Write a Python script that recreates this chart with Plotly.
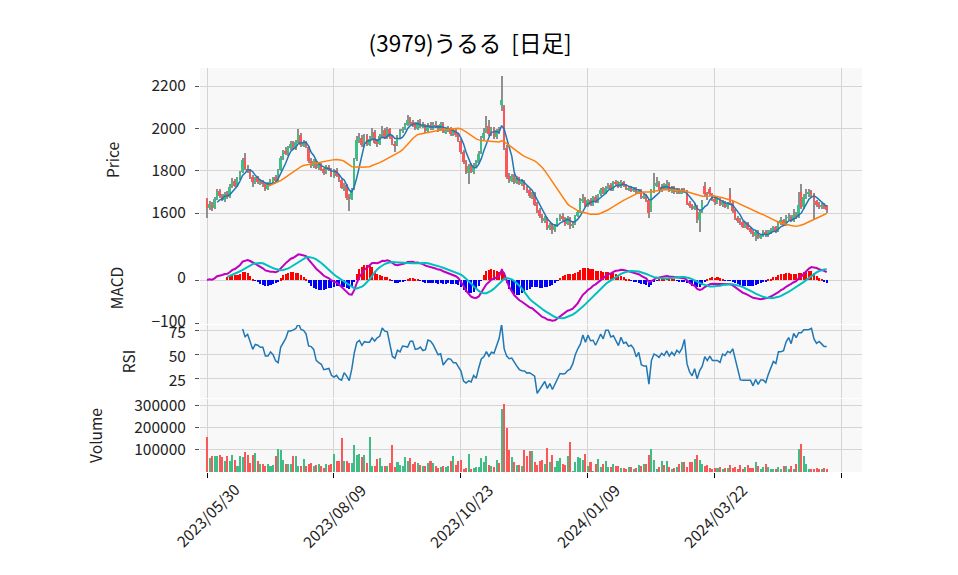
import pandas as pd
import plotly.graph_objects as go
from plotly.subplots import make_subplots

TITLE = "(3979)うるる \u00a0[日足]"
tick_pos = [0, 50, 100, 150, 200, 250]
tick_text = ["2023/05/30", "2023/08/09", "2023/10/23", "2024/01/09", "2024/03/22", ""]

opens = [
    1665, 1622, 1648, 1625, 1668, 1705, 1682, 1660, 1695, 1678,
    1728, 1752, 1728, 1768, 1795, 1862, 1808, 1798, 1772, 1740,
    1768, 1742, 1752, 1738, 1712, 1742, 1748, 1770, 1752, 1805,
    1862, 1895, 1878, 1908, 1930, 1905, 1935, 1968, 1918, 1935,
    1910, 1848, 1822, 1848, 1812, 1832, 1808, 1788, 1818, 1808,
    1772, 1805, 1778, 1758, 1715, 1732, 1675, 1668, 1715, 1855,
    1948, 1955, 1918, 1962, 1922, 1952, 1982, 1935, 1928, 1968,
    1992, 1958, 1995, 1962, 1928, 1922, 1962, 1988, 1998, 2018,
    2042, 2028, 2022, 1998, 2032, 2008, 2018, 1988, 2018, 1998,
    2018, 2012, 1992, 2022, 1982, 1992, 2002, 1972, 1992, 1972,
    1940, 1888, 1842, 1790, 1825, 1792, 1828, 1838, 1885, 1955,
    1985, 2010, 1972, 1998, 1958, 1992, 2110, 2100, 1905, 1775,
    1752, 1778, 1742, 1768, 1738, 1752, 1718, 1708, 1678, 1692,
    1642, 1612, 1588, 1562, 1578, 1528, 1548, 1518, 1542, 1572,
    1588, 1572, 1548, 1578, 1538, 1552, 1588, 1602, 1658, 1668,
    1632, 1662, 1638, 1678, 1652, 1688, 1712, 1692, 1722, 1732,
    1708, 1748, 1742, 1722, 1748, 1732, 1712, 1722, 1702, 1718,
    1698, 1708, 1672, 1682, 1662, 1610, 1702, 1732, 1742, 1708,
    1728, 1712, 1738, 1702, 1722, 1698, 1712, 1692, 1712, 1702,
    1648, 1638, 1618, 1632, 1568, 1608, 1730, 1688, 1715, 1688,
    1668, 1648, 1668, 1638, 1652, 1628, 1690, 1648, 1612, 1578,
    1562, 1558, 1532, 1552, 1528, 1512, 1492, 1512, 1482, 1492,
    1512, 1492, 1508, 1518, 1532, 1515, 1552, 1568, 1542, 1578,
    1582, 1562, 1592, 1582, 1700, 1628, 1672, 1688, 1702, 1688,
    1658, 1642, 1628, 1642, 1632,
]
highs = [
    1672, 1655, 1652, 1675, 1712, 1715, 1692, 1698, 1705, 1738,
    1765, 1760, 1772, 1800, 1858, 1885, 1825, 1808, 1780, 1772,
    1775, 1760, 1758, 1742, 1748, 1760, 1772, 1778, 1808, 1870,
    1898, 1910, 1915, 1938, 1942, 1945, 1995, 1978, 1945, 1942,
    1915, 1858, 1855, 1852, 1840, 1838, 1815, 1825, 1828, 1812,
    1810, 1812, 1785, 1765, 1742, 1738, 1688, 1718, 1860, 1962,
    1978, 1968, 1975, 1972, 1962, 2000, 1990, 1948, 1975, 2010,
    2000, 2005, 2000, 1970, 1940, 1968, 1995, 2005, 2025, 2062,
    2055, 2040, 2030, 2040, 2042, 2030, 2022, 2025, 2028, 2030,
    2035, 2018, 2028, 2030, 2002, 2010, 2008, 1998, 1998, 1980,
    1948, 1898, 1850, 1830, 1835, 1838, 1852, 1895, 1965, 2000,
    2060, 2040, 2005, 2005, 1998, 2005, 2245, 2110, 1920, 1790,
    1785, 1785, 1775, 1772, 1762, 1758, 1728, 1715, 1700, 1698,
    1650, 1622, 1595, 1585, 1582, 1555, 1552, 1548, 1578, 1595,
    1598, 1580, 1585, 1582, 1560, 1592, 1615, 1670, 1690, 1675,
    1668, 1670, 1682, 1685, 1692, 1718, 1722, 1728, 1742, 1740,
    1752, 1758, 1750, 1755, 1752, 1738, 1728, 1728, 1722, 1722,
    1712, 1712, 1690, 1688, 1668, 1712, 1790, 1770, 1750, 1738,
    1740, 1758, 1745, 1730, 1728, 1720, 1718, 1718, 1720, 1708,
    1655, 1645, 1648, 1640, 1612, 1660, 1745, 1700, 1725, 1695,
    1672, 1675, 1672, 1660, 1658, 1652, 1720, 1655, 1618, 1588,
    1575, 1562, 1558, 1558, 1535, 1518, 1518, 1518, 1502, 1518,
    1520, 1518, 1530, 1540, 1540, 1560, 1580, 1572, 1590, 1600,
    1592, 1620, 1605, 1700, 1735, 1690, 1712, 1712, 1708, 1695,
    1662, 1650, 1648, 1648, 1640,
]
lows = [
    1578, 1612, 1610, 1618, 1660, 1672, 1655, 1652, 1665, 1670,
    1720, 1722, 1722, 1758, 1788, 1805, 1790, 1762, 1722, 1735,
    1738, 1732, 1725, 1705, 1708, 1732, 1740, 1742, 1748, 1798,
    1852, 1872, 1870, 1900, 1902, 1898, 1930, 1912, 1910, 1905,
    1838, 1815, 1815, 1808, 1805, 1798, 1780, 1782, 1798, 1768,
    1765, 1768, 1745, 1712, 1705, 1660, 1608, 1660, 1710, 1848,
    1930, 1912, 1912, 1918, 1915, 1945, 1925, 1912, 1920, 1960,
    1952, 1950, 1952, 1922, 1888, 1915, 1955, 1978, 1990, 2010,
    2018, 2005, 1990, 1992, 2002, 2000, 1980, 1982, 1992, 1990,
    2000, 1985, 1988, 1978, 1972, 1985, 1965, 1965, 1960, 1935,
    1880, 1830, 1785, 1735, 1788, 1785, 1815, 1830, 1878, 1945,
    1978, 1965, 1965, 1952, 1950, 1975, 2080, 1900, 1760, 1740,
    1745, 1738, 1735, 1732, 1728, 1708, 1695, 1672, 1665, 1632,
    1602, 1578, 1555, 1555, 1522, 1518, 1500, 1510, 1535, 1562,
    1560, 1540, 1542, 1525, 1530, 1545, 1580, 1598, 1648, 1628,
    1628, 1635, 1632, 1648, 1648, 1680, 1688, 1688, 1715, 1702,
    1702, 1732, 1718, 1718, 1722, 1708, 1705, 1698, 1698, 1692,
    1692, 1668, 1665, 1652, 1575, 1605, 1695, 1725, 1702, 1700,
    1708, 1708, 1698, 1695, 1692, 1692, 1688, 1688, 1695, 1638,
    1625, 1612, 1612, 1555, 1510, 1600, 1680, 1662, 1680, 1655,
    1640, 1642, 1632, 1630, 1622, 1620, 1640, 1602, 1568, 1552,
    1545, 1528, 1528, 1518, 1502, 1485, 1467, 1478, 1475, 1488,
    1488, 1488, 1502, 1512, 1508, 1510, 1545, 1538, 1538, 1568,
    1558, 1558, 1572, 1578, 1618, 1620, 1665, 1678, 1672, 1565,
    1628, 1620, 1620, 1618, 1600,
]
closes = [
    1625, 1645, 1620, 1665, 1700, 1680, 1665, 1690, 1675, 1725,
    1750, 1730, 1765, 1790, 1850, 1810, 1800, 1770, 1745, 1765,
    1745, 1750, 1735, 1715, 1740, 1750, 1765, 1750, 1800, 1860,
    1890, 1880, 1905, 1925, 1910, 1935, 1970, 1920, 1930, 1915,
    1845, 1825, 1845, 1815, 1830, 1805, 1790, 1815, 1805, 1775,
    1800, 1775, 1755, 1720, 1730, 1670, 1665, 1710, 1850, 1945,
    1950, 1920, 1960, 1925, 1950, 1980, 1930, 1925, 1965, 1990,
    1960, 1990, 1960, 1930, 1920, 1960, 1985, 1995, 2015, 2040,
    2025, 2020, 2000, 2030, 2010, 2015, 1990, 2015, 2000, 2015,
    2010, 1995, 2020, 1985, 1990, 2000, 1975, 1990, 1970, 1945,
    1890, 1840, 1795, 1820, 1795, 1825, 1835, 1880, 1950, 1980,
    2005, 1975, 1995, 1960, 1990, 1985, 2135, 1910, 1770, 1755,
    1775, 1745, 1765, 1740, 1750, 1715, 1705, 1680, 1690, 1640,
    1610, 1585, 1565, 1575, 1530, 1545, 1520, 1540, 1570, 1585,
    1570, 1550, 1575, 1540, 1550, 1585, 1605, 1655, 1665, 1635,
    1660, 1640, 1675, 1655, 1685, 1710, 1695, 1720, 1730, 1710,
    1745, 1740, 1725, 1745, 1730, 1715, 1720, 1705, 1715, 1700,
    1705, 1675, 1680, 1660, 1600, 1700, 1730, 1740, 1710, 1725,
    1715, 1735, 1705, 1720, 1700, 1710, 1695, 1710, 1705, 1645,
    1635, 1620, 1635, 1570, 1605, 1650, 1690, 1675, 1690, 1665,
    1650, 1665, 1640, 1650, 1630, 1645, 1650, 1610, 1575, 1560,
    1555, 1535, 1550, 1525, 1510, 1495, 1510, 1485, 1495, 1510,
    1495, 1510, 1520, 1530, 1515, 1550, 1565, 1545, 1575, 1580,
    1565, 1590, 1580, 1640, 1625, 1675, 1685, 1700, 1690, 1655,
    1640, 1630, 1640, 1630, 1615,
]
volumes = [
    160000, 63000, 73000, 73000, 73000, 78000, 69000, 51000, 73000, 51000,
    78000, 55000, 28000, 73000, 66000, 90000, 78000, 40000, 76000, 87000,
    51000, 36000, 36000, 28000, 36000, 25000, 33000, 73000, 105000, 100000,
    55000, 36000, 36000, 36000, 73000, 73000, 28000, 25000, 60000, 25000,
    36000, 40000, 25000, 33000, 36000, 25000, 18000, 36000, 30000, 36000,
    81000, 52000, 50000, 156000, 51000, 51000, 42000, 40000, 123000, 78000,
    80000, 68000, 78000, 42000, 160000, 28000, 25000, 60000, 63000, 28000,
    28000, 28000, 40000, 123000, 22000, 44000, 30000, 25000, 70000, 48000,
    63000, 36000, 45000, 40000, 33000, 28000, 25000, 40000, 52000, 40000,
    28000, 18000, 23000, 28000, 22000, 25000, 48000, 73000, 33000, 48000,
    55000, 15000, 18000, 80000, 15000, 18000, 23000, 23000, 62000, 46000,
    72000, 31000, 26000, 23000, 54000, 40000, 285000, 308000, 200000, 100000,
    69000, 46000, 31000, 31000, 26000, 100000, 72000, 95000, 95000, 46000,
    31000, 49000, 54000, 38000, 108000, 46000, 77000, 23000, 49000, 62000,
    38000, 31000, 72000, 138000, 3000, 46000, 68000, 62000, 54000, 80000,
    26000, 46000, 3000, 35000, 58000, 23000, 38000, 49000, 23000, 23000,
    38000, 26000, 26000, 18000, 18000, 15000, 22000, 22000, 12000, 20000,
    31000, 28000, 38000, 38000, 77000, 103000, 54000, 15000, 23000, 49000,
    34000, 49000, 23000, 15000, 18000, 23000, 38000, 46000, 46000, 23000,
    46000, 46000, 57000, 77000, 54000, 38000, 26000, 31000, 18000, 15000,
    20000, 20000, 23000, 15000, 20000, 18000, 31000, 20000, 23000, 15000,
    34000, 12000, 23000, 34000, 18000, 20000, 46000, 28000, 15000, 23000,
    38000, 23000, 12000, 15000, 15000, 23000, 15000, 26000, 26000, 15000,
    26000, 15000, 38000, 103000, 126000, 72000, 38000, 15000, 15000, 12000,
    20000, 12000, 12000, 20000, 12000,
]

UP = "#3fbd87"
DOWN = "#fa5858"
FONT = "Noto Sans CJK JP"
TICK_SIZE = 15.5


def main():
    df = pd.DataFrame({"open": opens, "high": highs, "low": lows,
                       "close": closes, "volume": volumes})
    x = list(range(len(df)))
    close = df["close"]

    # indicators
    ma5 = close.rolling(5).mean()
    ma25 = close.rolling(25).mean()
    ema12 = close.ewm(span=12, adjust=False).mean()
    ema26 = close.ewm(span=26, adjust=False).mean()
    macd = ema12 - ema26
    signal = macd.rolling(9).mean()
    hist = macd - signal
    diff = close.diff()
    gain = diff.clip(lower=0).rolling(14).mean()
    loss = (-diff.clip(upper=0)).rolling(14).mean()
    rsi = 100 * gain / (gain + loss)

    up = df["close"] >= df["open"]
    colors = [UP if u else DOWN for u in up]

    fig = make_subplots(rows=4, cols=1, shared_xaxes=True, vertical_spacing=0)

    # candles: wick first, body on top
    fig.add_trace(go.Bar(x=x, base=df["low"], y=df["high"] - df["low"],
                         width=0.4, marker=dict(color="#8f8f8f", line_width=0)),
                  row=1, col=1)
    fig.add_trace(go.Bar(x=x, base=df[["open", "close"]].min(axis=1),
                         y=(df["close"] - df["open"]).abs(),
                         width=0.78, marker=dict(color=colors, line_width=0)),
                  row=1, col=1)
    fig.add_trace(go.Scatter(x=x, y=ma5, mode="lines",
                             line=dict(color="#1f77b4", width=1.5)), row=1, col=1)
    fig.add_trace(go.Scatter(x=x, y=ma25, mode="lines",
                             line=dict(color="#ff7f0e", width=1.5)), row=1, col=1)

    # MACD
    hcolors = ["#ff0000" if v >= 0 else "#0000ff" for v in hist.fillna(0)]
    fig.add_trace(go.Bar(x=x, y=hist, width=0.8,
                         marker=dict(color=hcolors, line_width=0)), row=2, col=1)
    fig.add_trace(go.Scatter(x=x, y=macd, mode="lines",
                             line=dict(color="#bf00bf", width=2)), row=2, col=1)
    fig.add_trace(go.Scatter(x=x, y=signal, mode="lines",
                             line=dict(color="#00bfbf", width=2)), row=2, col=1)

    # RSI
    fig.add_trace(go.Scatter(x=x, y=rsi, mode="lines",
                             line=dict(color="#1f77b4", width=1.5)), row=3, col=1)

    # Volume
    fig.add_trace(go.Bar(x=x, y=df["volume"], width=0.8,
                         marker=dict(color=colors, line_width=0)), row=4, col=1)

    tick_font = dict(family=FONT, size=TICK_SIZE, color="#222")
    axis_common = dict(showgrid=True, gridcolor="#d4d4d4", gridwidth=1,
                       zeroline=False, showline=False, automargin=False,
                       tickfont=tick_font)
    ytick = dict(ticks="outside", ticklen=4, tickcolor="#555", ticklabelstandoff=6)
    for i in range(1, 5):
        fig.update_xaxes(axis_common, range=[-2.76, 257.9], tickmode="array",
                         tickvals=tick_pos, ticktext=tick_text,
                         showticklabels=False, row=i, col=1)
    for i in range(1, 4):
        fig.update_xaxes(ticks="", row=i, col=1)
    fig.update_xaxes(ticks="outside", ticklen=5, tickcolor="#000", row=4, col=1)

    # date labels centred under their ticks, rotated 45 degrees
    for pos, label in zip(tick_pos, tick_text):
        if label:
            fig.add_annotation(x=pos, y=-0.1064, xref="x4", yref="paper",
                               text=label, textangle=-45, showarrow=False,
                               xanchor="center", yanchor="middle",
                               font=tick_font)

    fig.update_layout(
        yaxis=dict(axis_common, **ytick, domain=[0.5446, 1.0], range=[1416, 2285],
                   tickvals=[1600, 1800, 2000, 2200],
                   title=dict(text="Price", standoff=28, font=tick_font)),
        yaxis2=dict(axis_common, **ytick, domain=[0.3663, 0.5446], range=[-102, 65],
                    tickvals=[-100, 0], ticklabelshift=-2,
                    title=dict(text="MACD", standoff=24, font=tick_font)),
        yaxis3=dict(axis_common, **ytick, domain=[0.1832, 0.3639], range=[4.5, 81.3],
                    tickvals=[25, 50, 75], ticklabelshift=2,
                    title=dict(text="RSI", standoff=29, font=tick_font)),
        yaxis4=dict(axis_common, **ytick, domain=[0.0, 0.1807], range=[0, 331000],
                    tickvals=[100000, 200000, 300000], tickformat="d",
                    title=dict(text="Volume", standoff=27, font=tick_font)),
    )

    # page body adds 8px, so the plot box is pulled up/left by 8px
    fig.update_layout(
        width=958, height=575,
        margin=dict(l=192, r=104, t=60, b=111),
        barmode="overlay", bargap=0,
        showlegend=False,
        paper_bgcolor="white", plot_bgcolor="#f8f8f8",
        font=dict(family=FONT, size=TICK_SIZE, color="#222"),
        title=dict(text=TITLE, xref="container", x=0.4823, xanchor="center",
                   yref="container", y=0.9374, yanchor="middle",
                   font=dict(family=FONT, size=22.5, color="#000")),
    )

    fig.write_html("out.html")


if __name__ == "__main__":
    main()
